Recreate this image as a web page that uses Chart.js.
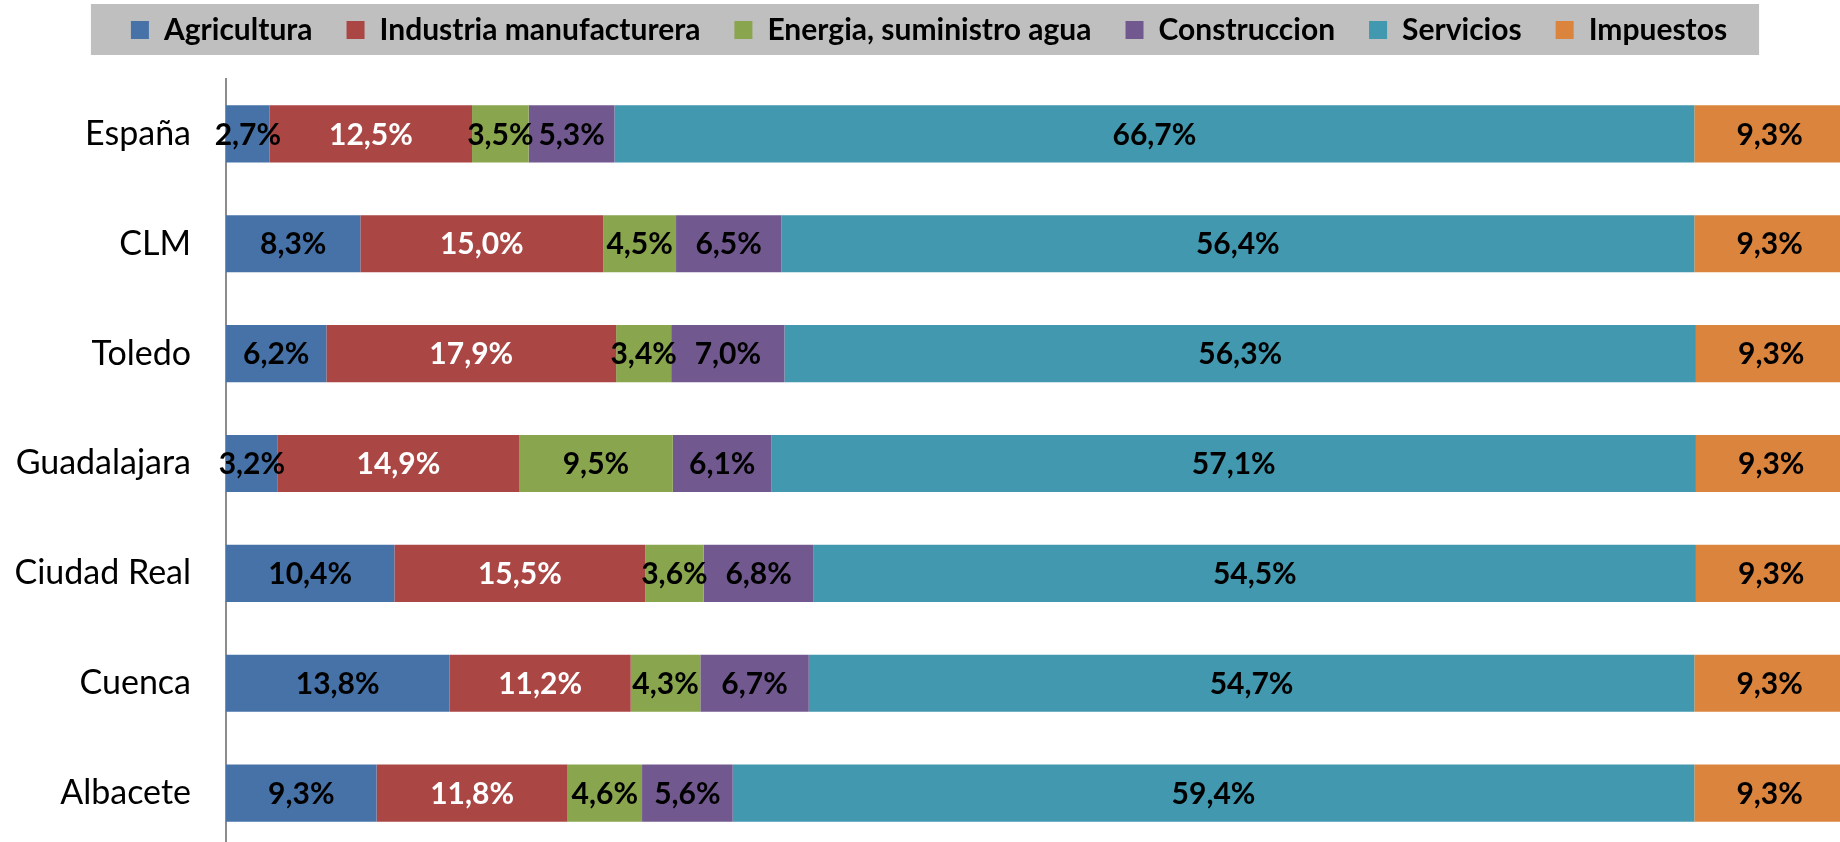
<!DOCTYPE html>
<html>
  <head>
    <meta charset="utf-8" />
    <style>
      * {
        margin: 0;
        padding: 0;
      }
      body {
        overflow: hidden;
        background: #ffffff;
      }
      .chartBox {
        width: 1840px;
        height: 848px;
      }
    </style>
  </head>
  <body>
    <div class="chartBox">
      <canvas id="myChart"></canvas>
    </div>
    <script src="https://cdn.jsdelivr.net/npm/chart.js/dist/chart.umd.min.js"></script>
    <script>
      const categories = ["España", "CLM", "Toledo", "Guadalajara", "Ciudad Real", "Cuenca", "Albacete"];
      const agricultura = [2.7, 8.3, 6.2, 3.2, 10.4, 13.8, 9.3];
      const industria = [12.5, 15.0, 17.9, 14.9, 15.5, 11.2, 11.8];
      const energia = [3.5, 4.5, 3.4, 9.5, 3.6, 4.3, 4.6];
      const construccion = [5.3, 6.5, 7.0, 6.1, 6.8, 6.7, 5.6];
      const servicios = [66.7, 56.4, 56.3, 57.1, 54.5, 54.7, 59.4];
      const impuestos = [9.3, 9.3, 9.3, 9.3, 9.3, 9.3, 9.3];

      const FONT = "Lato, 'Open Sans', sans-serif";

      function series(label, data, color, labelColor) {
        return {
          label: label,
          data: data,
          backgroundColor: color,
          borderColor: color,
          borderWidth: 0,
          labelColor: labelColor,
          barPercentage: 0.52,
          categoryPercentage: 1,
        };
      }

      const data = {
        labels: categories,
        datasets: [
          series("Agricultura", agricultura, "#4672A8", "#000000"),
          series("Industria manufacturera", industria, "#AA4644", "#ffffff"),
          series("Energia, suministro agua", energia, "#89A54E", "#000000"),
          series("Construccion", construccion, "#71588F", "#000000"),
          series("Servicios", servicios, "#4198AF", "#000000"),
          series("Impuestos", impuestos, "#DB843D", "#000000"),
        ],
      };

      // grey band behind the legend + push plot area down
      const legendBand = {
        id: "legendBand",
        beforeInit(chart) {
          const fit = chart.legend.fit;
          chart.legend.fit = function () {
            fit.bind(chart.legend)();
            this.height += 24;
          };
        },
        afterLayout(chart) {
          // legend sits a little right of centre in the original
          chart.legend.left += 9;
          chart.legend.right += 9;
        },
        beforeDraw(chart) {
          const boxes = chart.legend.legendHitBoxes;
          if (!boxes || !boxes.length) return;
          let l = Infinity, r = -Infinity;
          boxes.forEach((b) => {
            l = Math.min(l, b.left);
            r = Math.max(r, b.left + b.width);
          });
          const ctx = chart.ctx;
          ctx.save();
          ctx.fillStyle = "#BFBFBF";
          ctx.fillRect(l - 40, 4, r - l + 72, 51);
          ctx.restore();
        },
      };

      // percent labels in the middle of each segment
      const segmentLabels = {
        id: "segmentLabels",
        afterDatasetsDraw(chart) {
          const ctx = chart.ctx;
          ctx.save();
          ctx.font = "bold 30px " + FONT;
          ctx.textAlign = "center";
          ctx.textBaseline = "middle";
          chart.data.datasets.forEach((ds, i) => {
            const meta = chart.getDatasetMeta(i);
            meta.data.forEach((bar, j) => {
              const v = ds.data[j];
              const x = (bar.x + bar.base) / 2;
              ctx.fillStyle = ds.labelColor;
              ctx.fillText(v.toFixed(1).replace(".", ",") + "%", x, bar.y + 1);
            });
          });
          ctx.restore();
        },
      };

      const config = {
        type: "bar",
        data,
        options: {
          indexAxis: "y",
          responsive: true,
          maintainAspectRatio: false,
          animation: false,
          layout: { padding: { top: -19, left: 0, right: 0, bottom: 0 } },
          scales: {
            x: {
              stacked: true,
              min: 0,
              max: 99.7,
              display: false,
            },
            y: {
              stacked: true,
              grid: { display: false },
              border: { display: true, color: "#8C8C8C", width: 2 },
              ticks: {
                color: "#000000",
                padding: 27,
                font: { family: FONT, size: 34 },
              },
              afterFit(scale) {
                scale.width = 226;
                scale.paddingTop = 0;
                scale.paddingBottom = 0;
              },
            },
          },
          plugins: {
            legend: {
              position: "top",
              labels: {
                color: "#000000",
                boxWidth: 18,
                boxHeight: 18,
                padding: 34,
                font: { family: FONT, size: 30, weight: "bold" },
              },
            },
            tooltip: { enabled: false },
          },
        },
        plugins: [legendBand, segmentLabels],
      };

      const myChart = new Chart(document.getElementById("myChart"), config);
    </script>
  </body>
</html>
